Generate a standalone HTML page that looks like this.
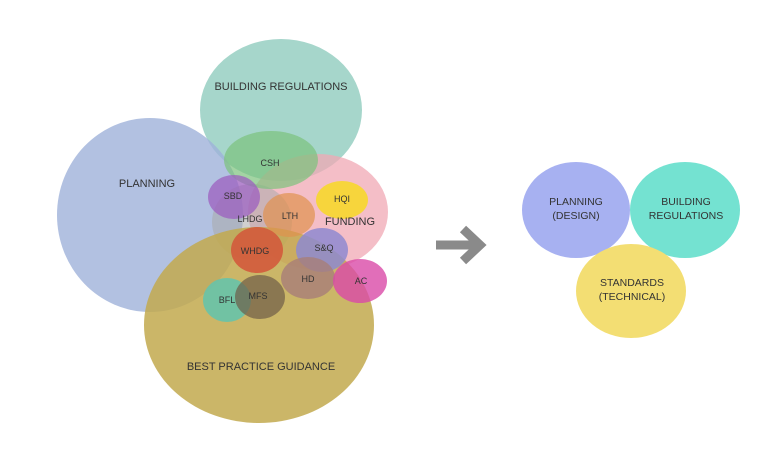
<!DOCTYPE html>
<html><head><meta charset="utf-8"><style>
html,body{margin:0;padding:0;background:#fff;}
svg text{font-family:"Liberation Sans",sans-serif;fill:#333;text-anchor:middle;dominant-baseline:central;}
</style></head><body>
<svg width="780" height="470" viewBox="0 0 780 470" xmlns="http://www.w3.org/2000/svg">
<rect width="780" height="470" fill="#fff"/>
<g>
<ellipse cx="281" cy="110" rx="81" ry="71" fill="#a6d6cb"/>
<ellipse cx="150" cy="215" rx="93" ry="97" fill="#9fb1d9" opacity="0.8"/>
<ellipse cx="318" cy="212" rx="70" ry="58" fill="#f0a8b4" opacity="0.75"/>
<ellipse cx="252" cy="222" rx="40" ry="38" fill="#a9a9a9" opacity="0.55"/>
<ellipse cx="259" cy="325" rx="115" ry="98" fill="#c2a94e" opacity="0.85"/>
<ellipse cx="271" cy="160" rx="47" ry="29" fill="#7cc27c" opacity="0.7"/>
<ellipse cx="234" cy="197" rx="26" ry="22" fill="#9c5fbf" opacity="0.75"/>
<ellipse cx="289" cy="215" rx="26" ry="22" fill="#e0924f" opacity="0.7"/>
<ellipse cx="342" cy="200" rx="26" ry="19" fill="#f7d53c"/>
<ellipse cx="257" cy="250" rx="26" ry="23" fill="#d4553a" opacity="0.85"/>
<ellipse cx="322" cy="250" rx="26" ry="22" fill="#8e89d0" opacity="0.85"/>
<ellipse cx="308" cy="278" rx="27" ry="21" fill="#a77e78" opacity="0.8"/>
<ellipse cx="360" cy="281" rx="27" ry="22" fill="#d94aa8" opacity="0.8"/>
<ellipse cx="227" cy="300" rx="24" ry="22" fill="#62c4ae" opacity="0.85"/>
<ellipse cx="260" cy="297" rx="25" ry="22" fill="#6e5c47" opacity="0.7"/>
</g>
<g font-size="11">
<text x="281" y="87">BUILDING REGULATIONS</text>
<text x="147" y="184">PLANNING</text>
<text x="350" y="222">FUNDING</text>
<text x="261" y="367">BEST PRACTICE GUIDANCE</text>
</g>
<g font-size="9">
<text x="270" y="163">CSH</text>
<text x="233" y="196">SBD</text>
<text x="250" y="219">LHDG</text>
<text x="290" y="216">LTH</text>
<text x="342" y="199">HQI</text>
<text x="255" y="251">WHDG</text>
<text x="324" y="248">S&amp;Q</text>
<text x="308" y="279">HD</text>
<text x="361" y="281">AC</text>
<text x="227" y="300">BFL</text>
<text x="258" y="296">MFS</text>
</g>
<path d="M436 245 H478 M463 229 L480 245 L463 261" stroke="#8a8a8a" stroke-width="9" fill="none"/>
<ellipse cx="576" cy="210" rx="54" ry="48" fill="#a7b1f1"/>
<ellipse cx="685" cy="210" rx="55" ry="48" fill="#74e2d1"/>
<ellipse cx="631" cy="291" rx="55" ry="47" fill="#f3de73"/>
<g font-size="10.5">
<text x="576" y="202">PLANNING</text>
<text x="576" y="216">(DESIGN)</text>
<text x="686" y="202">BUILDING</text>
<text x="686" y="216">REGULATIONS</text>
<text x="632" y="283">STANDARDS</text>
<text x="632" y="297">(TECHNICAL)</text>
</g>
</svg>
</body></html>
